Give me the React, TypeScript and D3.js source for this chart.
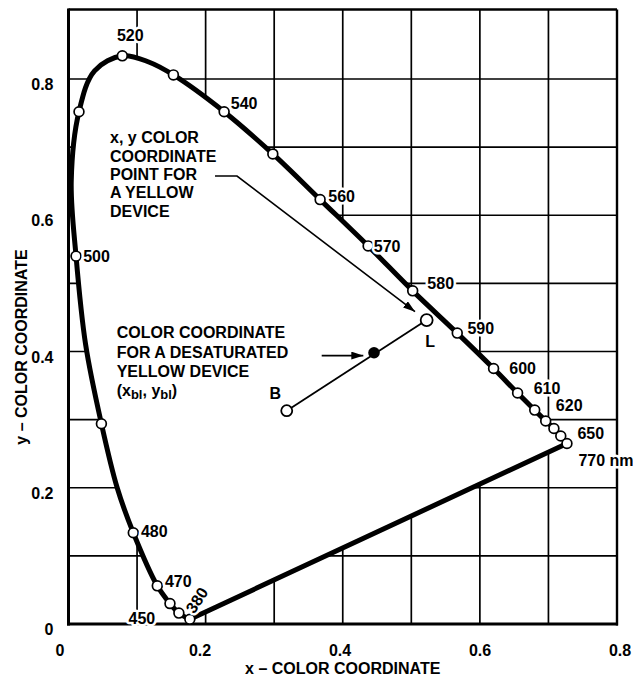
import React from "react";
import * as d3 from "d3";

// Spectral locus (wavelength nm, x, y)
const locusNm = [380, 450, 460, 470, 480, 485, 490, 495, 500, 505, 510, 515, 520, 525, 530, 540, 550, 560, 570, 580, 590, 600, 610, 620, 630, 640, 650, 770];
const locusX = [0.177, 0.161, 0.148, 0.1295, 0.0945, 0.071, 0.048, 0.025, 0.011, 0.004, 0.0153, 0.038, 0.0785, 0.117, 0.153, 0.227, 0.298, 0.367, 0.437, 0.502, 0.567, 0.62, 0.655, 0.68, 0.696, 0.708, 0.718, 0.727];
const locusY = [0.007, 0.016, 0.03, 0.056, 0.134, 0.2, 0.294, 0.41, 0.54, 0.65, 0.752, 0.812, 0.834, 0.825, 0.806, 0.752, 0.69, 0.623, 0.555, 0.489, 0.427, 0.375, 0.339, 0.314, 0.298, 0.287, 0.276, 0.265];

// wavelengths that carry an open marker
const markerNm = [380, 450, 460, 470, 480, 490, 500, 510, 520, 530, 540, 550, 560, 570, 580, 590, 600, 610, 620, 630, 640, 650, 770];

// wavelength labels
const labelNm = [380, 450, 470, 480, 500, 520, 540, 560, 570, 580, 590, 600, 610, 620, 650, 770];
const labelText = ["380", "450", "470", "480", "500", "520", "540", "560", "570", "580", "590", "600", "610", "620", "650", "770 nm"];

// annotation points
const pointB = [0.3183, 0.3131];
const pointL = [0.5224, 0.4462];
const pointBL = [0.4456, 0.3982];
const arrow1 = [[0.2137, 0.6576], [0.2458, 0.6576], [0.5054, 0.4584]];
const arrow2 = [[0.3693, 0.394], [0.43, 0.394]];

const xTicks = [0, 0.2, 0.4, 0.6, 0.8];
const yTicks = [0, 0.2, 0.4, 0.6, 0.8];
const xTickLabels = ["0", "0.2", "0.4", "0.6", "0.8"];
const yTickLabels = ["0", "0.2", "0.4", "0.6", "0.8"];
const gridX = [0.1, 0.2, 0.3, 0.4, 0.5, 0.6, 0.7];
const gridY = [0.1, 0.2, 0.3, 0.4, 0.5, 0.6, 0.7, 0.8];

const note1 = ["x, y COLOR", "COORDINATE", "POINT FOR", "A YELLOW", "DEVICE"];
const note2 = ["COLOR COORDINATE", "FOR A DESATURATED", "YELLOW DEVICE"];

// label layout offsets (px) relative to the marker
const labelLayout: Record<number, { dx: number; dy: number; anchor: string; rot?: number }> = {
  380: { dx: 7, dy: -19, anchor: "middle", rot: -57 },
  450: { dx: -37, dy: 5, anchor: "middle" },
  470: { dx: 21, dy: -5, anchor: "middle" },
  480: { dx: 21, dy: -1.5, anchor: "middle" },
  500: { dx: 20.5, dy: 0, anchor: "middle" },
  520: { dx: 8, dy: -21, anchor: "middle" },
  540: { dx: 20, dy: -8.5, anchor: "middle" },
  560: { dx: 21.5, dy: -3, anchor: "middle" },
  570: { dx: 19, dy: 0, anchor: "middle" },
  580: { dx: 28, dy: -7.5, anchor: "middle" },
  590: { dx: 23.5, dy: -5, anchor: "middle" },
  600: { dx: 29, dy: 0, anchor: "middle" },
  610: { dx: 29.5, dy: -5, anchor: "middle" },
  620: { dx: 34.5, dy: -5, anchor: "middle" },
  650: { dx: 30, dy: -3, anchor: "middle" },
  770: { dx: 11.5, dy: 16.5, anchor: "start" },
};

const FONT = "'Liberation Sans', Arial, Helvetica, sans-serif";

export default function App() {
  const W = 633, H = 678;
  const x = d3.scaleLinear().domain([0, 0.8]).range([68.5, 617]);
  const y = d3.scaleLinear().domain([0, 0.8]).range([624, 79]);
  const xLab = d3.scaleLinear().domain([0, 0.8]).range([60, 620]);
  const top = 9.5;

  const pts: [number, number][] = locusNm.map((_, i) => [x(locusX[i]), y(locusY[i])]);
  const locusPath = (d3.line().curve(d3.curveCatmullRom.alpha(0.5))(pts) || "") + "Z";
  const px = (nm: number) => x(locusX[locusNm.indexOf(nm)]);
  const py = (nm: number) => y(locusY[locusNm.indexOf(nm)]);
  const line = d3.line();

  const a1 = line(arrow1.map((p) => [x(p[0]), y(p[1])] as [number, number])) || "";
  const a2 = line(arrow2.map((p) => [x(p[0]), y(p[1])] as [number, number])) || "";

  const halo = { stroke: "#fff", strokeWidth: 5, paintOrder: "stroke" as const, strokeLinejoin: "round" as const };

  return (
    <svg width={W} height={H} style={{ position: "absolute", left: 0, top: 0, background: "#fff" }}
      fontFamily={FONT} fontWeight="bold" fontSize={16}>
      <defs>
        <marker id="ah" viewBox="0 0 12 8" refX="12" refY="4" markerWidth="12" markerHeight="8"
          markerUnits="userSpaceOnUse" orient="auto">
          <path d="M0,0 L12,4 L0,8 Z" fill="#000" />
        </marker>
      </defs>
      <rect width={W} height={H} fill="#fff" />
      {/* grid */}
      <g stroke="#000" strokeWidth={1.7}>
        {gridX.map((v) => (
          <line key={"gx" + v} x1={x(v)} x2={x(v)} y1={y(0)} y2={top} />
        ))}
        {gridY.map((v) => (
          <line key={"gy" + v} x1={x(0)} x2={x(0.8)} y1={y(v)} y2={y(v)} />
        ))}
      </g>
      {/* frame */}
      <g stroke="#000" fill="none">
        <line x1={x(0)} x2={x(0.8)} y1={top} y2={top} strokeWidth={2.4} />
        <line x1={x(0.8)} x2={x(0.8)} y1={top} y2={y(0) + 1.5} strokeWidth={2.4} />
        <line x1={x(0)} x2={x(0)} y1={top - 1} y2={y(0) + 1.5} strokeWidth={3} />
        <line x1={x(0) - 1.5} x2={x(0.8) + 1} y1={y(0)} y2={y(0)} strokeWidth={3} />
      </g>
      {/* locus fill and outline */}
      <path d={locusPath} fill="#fff" stroke="#000" strokeWidth={5} strokeLinejoin="round" />
      {/* markers */}
      <g fill="#fff" stroke="#000" strokeWidth={1.7}>
        {markerNm.map((nm) => (
          <circle key={"m" + nm} cx={px(nm)} cy={py(nm)} r={4.9} />
        ))}
      </g>
      {/* wavelength labels */}
      <g fill="#000">
        {labelNm.map((nm, i) => {
          const L = labelLayout[nm];
          const cx = px(nm) + L.dx;
          const cy = py(nm) + L.dy;
          return (
            <text key={"l" + nm} x={cx} y={cy + 5.7} textAnchor={L.anchor}
              transform={L.rot ? `rotate(${L.rot},${cx},${cy})` : undefined} {...halo}>
              {labelText[i]}
            </text>
          );
        })}
      </g>
      {/* annotation: B-L line */}
      <line x1={x(pointB[0])} y1={y(pointB[1])} x2={x(pointL[0])} y2={y(pointL[1])} stroke="#000" strokeWidth={1.8} />
      <circle cx={x(pointB[0])} cy={y(pointB[1])} r={5.5} fill="#fff" stroke="#000" strokeWidth={1.8} />
      <circle cx={x(pointL[0])} cy={y(pointL[1])} r={6} fill="#fff" stroke="#000" strokeWidth={1.8} />
      <circle cx={x(pointBL[0])} cy={y(pointBL[1])} r={5.8} fill="#000" />
      <text x={x(pointB[0]) - 11.5} y={y(pointB[1]) - 17.3 + 5.7} textAnchor="middle">B</text>
      <text x={x(pointL[0]) + 3.5} y={y(pointL[1]) + 21.7 + 5.7} textAnchor="middle">L</text>
      {/* arrows */}
      <path d={a1} fill="none" stroke="#000" strokeWidth={1.6} markerEnd="url(#ah)" />
      <path d={a2} fill="none" stroke="#000" strokeWidth={1.8} markerEnd="url(#ah)" />
      {/* notes */}
      <text x={110} y={143.4}>
        {note1.map((t, i) => (
          <tspan key={t} x={110} dy={i === 0 ? 0 : 18.3}>{t}</tspan>
        ))}
      </text>
      <text x={116.7} y={338.4}>
        {note2.map((t, i) => (
          <tspan key={t} x={116.7} dy={i === 0 ? 0 : 19.1}>{t}</tspan>
        ))}
        <tspan x={116.7} dy={19.1}>(x</tspan>
        <tspan fontSize={13} dy={3.5}>bl</tspan>
        <tspan dy={-3.5}>, y</tspan>
        <tspan fontSize={13} dy={3.5}>bl</tspan>
        <tspan dy={-3.5}>)</tspan>
      </text>
      {/* ticks */}
      <g>
        {xTicks.map((v, i) => (
          <text key={"xt" + v} x={xLab(v)} y={655.5} textAnchor="middle">{xTickLabels[i]}</text>
        ))}
        {yTicks.map((v, i) => (
          <text key={"yt" + v} x={53.5} y={y(v) + 5.5 + 5.7} textAnchor="end">{yTickLabels[i]}</text>
        ))}
      </g>
      <text x={(x(0) + x(0.8)) / 2} y={673.7} textAnchor="middle">x – COLOR COORDINATE</text>
      <text transform={`translate(27.2,347) rotate(-90)`} textAnchor="middle">y – COLOR COORDINATE</text>
    </svg>
  );
}
